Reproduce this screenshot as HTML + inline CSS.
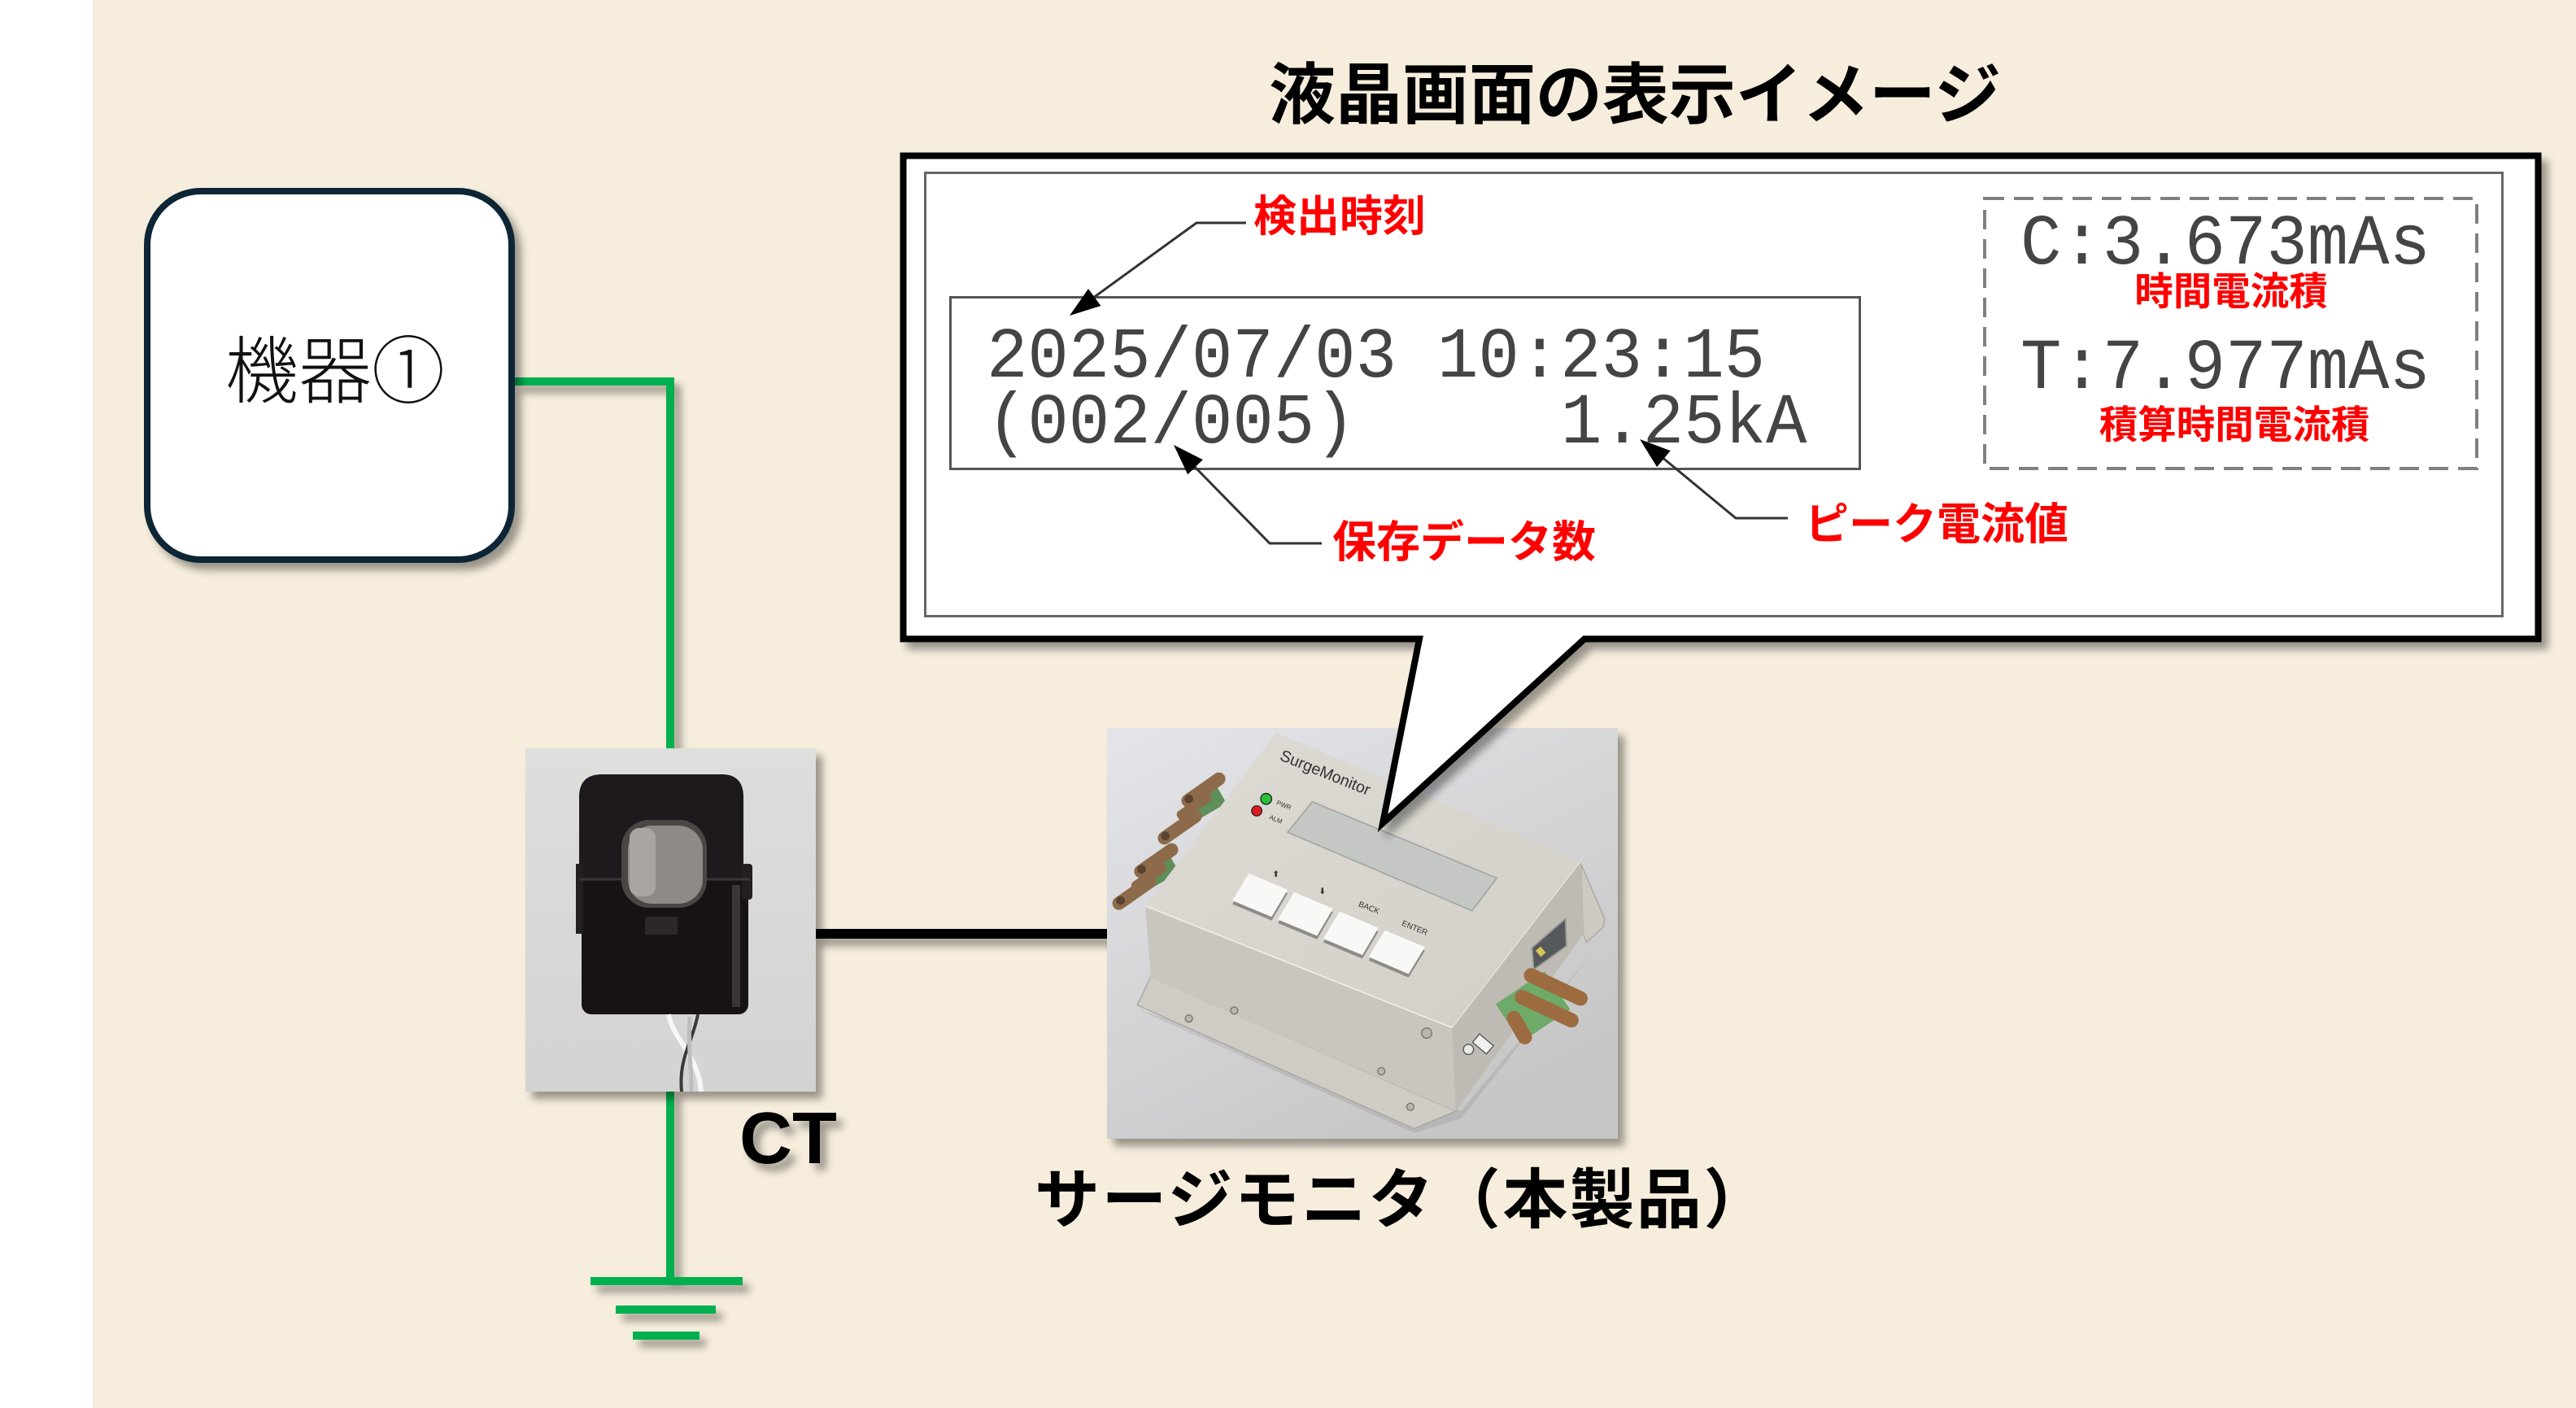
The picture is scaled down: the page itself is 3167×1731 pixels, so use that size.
<!DOCTYPE html>
<html><head><meta charset="utf-8">
<style>
html,body{margin:0;padding:0;background:#fff;}
body{width:3167px;height:1731px;overflow:hidden;position:relative;}
svg{position:absolute;left:0;top:0;display:block;}
</style></head><body>
<svg width="3167" height="1731" viewBox="0 0 3167 1731" xmlns="http://www.w3.org/2000/svg">
<defs>
 <filter id="ds" filterUnits="userSpaceOnUse" x="0" y="0" width="3167" height="1731">
  <feGaussianBlur in="SourceAlpha" stdDeviation="5"/>
  <feOffset dx="8" dy="9"/>
  <feComponentTransfer><feFuncA type="linear" slope="0.38"/></feComponentTransfer>
  <feMerge><feMergeNode/><feMergeNode in="SourceGraphic"/></feMerge>
 </filter>
 <linearGradient id="gct" x1="0" y1="0" x2="0" y2="1">
  <stop offset="0" stop-color="#DEDEDC"/><stop offset="1" stop-color="#D3D3D1"/>
 </linearGradient>
 <linearGradient id="gdev" x1="0" y1="0" x2="0.6" y2="1">
  <stop offset="0" stop-color="#E4E5EA"/><stop offset="0.6" stop-color="#D3D3D5"/><stop offset="1" stop-color="#C6C6C6"/>
 </linearGradient>
 <linearGradient id="gtop" x1="0" y1="0" x2="1" y2="1">
  <stop offset="0" stop-color="#DEDBD4"/><stop offset="1" stop-color="#D2CFC8"/>
 </linearGradient>
</defs>

<!-- background -->
<rect x="0" y="0" width="3167" height="1731" fill="#FFFFFF"/>
<rect x="114" y="0" width="3053" height="1731" fill="#F6EDDC"/>

<!-- green wiring -->
<g filter="url(#ds)" fill="none" stroke="#00B050" stroke-width="10">
 <path d="M633,469 H824 V925"/>
 <path d="M824,1340 V1575"/>
 <line x1="726" y1="1575" x2="913" y2="1575"/>
 <line x1="757" y1="1610" x2="880" y2="1610"/>
 <line x1="778" y1="1642" x2="860" y2="1642"/>
</g>

<!-- black wire CT -> monitor -->
<g filter="url(#ds)"><line x1="1000" y1="1148" x2="1366" y2="1148" stroke="#000" stroke-width="12"/></g>

<!-- machine box -->
<g filter="url(#ds)">
 <rect x="181" y="235" width="448" height="453" rx="66" ry="66" fill="#FFFFFF" stroke="#0C2536" stroke-width="8"/>
</g>
<text x="412" y="488" font-family="'Liberation Sans','Noto Sans CJK JP',sans-serif" font-size="90" font-weight="300" text-anchor="middle" fill="#111">機器①</text>

<!-- CT photo -->
<g filter="url(#ds)"><rect x="646" y="920" width="357" height="422" fill="url(#gct)"/></g>
<g>
 <path d="M712,1090 V980 Q712,952 740,952 H887 Q914,952 914,980 V1090 Z" fill="#1D191C"/>
 <rect x="715" y="1080" width="205" height="167" rx="12" fill="#171315"/>
 <rect x="900" y="1088" width="10" height="150" fill="#3A3538"/>
 <rect x="708" y="1062" width="9" height="86" fill="#231F21"/>
 <rect x="912" y="1062" width="13" height="44" rx="4" fill="#231F21"/>
 <line x1="712" y1="1081" x2="922" y2="1081" stroke="#3a3638" stroke-width="3"/>
 <rect x="764" y="1008" width="105" height="108" rx="34" fill="#4A4643"/>
 <rect x="772" y="1015" width="92" height="96" rx="30" fill="#8E8A86"/>
 <rect x="774" y="1018" width="32" height="84" rx="12" fill="#A9A6A2"/>
 <rect x="793" y="1127" width="40" height="22" fill="#2C282A"/>
 <path d="M822,1247 C826,1275 860,1300 862,1342" stroke="#F6F6F6" stroke-width="6" fill="none"/>
 <path d="M858,1247 C852,1280 834,1300 838,1342" stroke="#3A3A3A" stroke-width="4" fill="none"/>
 <path d="M848,1250 C846,1290 850,1310 850,1342" stroke="#BDBDBD" stroke-width="5" fill="none"/>
</g>
<!-- CT label -->
<g filter="url(#ds)">
 <text x="909" y="1430" font-family="'Liberation Sans',sans-serif" font-size="90" font-weight="bold" fill="#000">CT</text>
</g>

<!-- Monitor photo -->
<g filter="url(#ds)"><rect x="1361" y="895" width="628" height="505" fill="url(#gdev)"/></g>
<g transform="translate(1350,750) scale(0.44643)">
 <path d="M110,1100 L870,1440 L1000,1400 L1380,920 L1000,1380 Z" fill="#000" opacity="0.08"/>
 <g fill="#5E8F58">
  <rect x="250" y="500" width="95" height="60" transform="rotate(-30 297 530)"/>
  <rect x="120" y="690" width="95" height="60" transform="rotate(-30 167 720)"/>
 </g>
 <g fill="#8C6A4A">
  <g transform="translate(290,495) rotate(-35)"><rect x="-70" y="-18" width="140" height="36" rx="18"/></g>
  <g transform="translate(265,540) rotate(-35)"><rect x="-55" y="-14" width="110" height="28" rx="12"/></g>
  <g transform="translate(225,598) rotate(-35)"><rect x="-70" y="-18" width="140" height="36" rx="18"/></g>
  <g transform="translate(160,690) rotate(-35)"><rect x="-70" y="-18" width="140" height="36" rx="18"/></g>
  <g transform="translate(140,735) rotate(-35)"><rect x="-55" y="-14" width="110" height="28" rx="12"/></g>
  <g transform="translate(100,778) rotate(-35)"><rect x="-70" y="-18" width="140" height="36" rx="18"/></g>
 </g>
 <g fill="#5a4330">
  <circle cx="250" cy="520" r="12"/><circle cx="185" cy="622" r="12"/><circle cx="120" cy="714" r="12"/><circle cx="62" cy="800" r="12"/>
 </g>
 <polygon points="145,1010 985,1380 870,1428 108,1088" fill="#CFCCC5" stroke="#A9A6A0" stroke-width="3"/>
 <polygon points="1330,700 1395,850 1392,872 1345,915 1336,892" fill="#CDCAC3" stroke="#A9A6A0" stroke-width="3"/>
 <polygon points="130,815 975,1150 985,1380 145,1012" fill="#C9C6BF"/>
 <polygon points="975,1150 1330,690 1338,890 985,1380" fill="#BEBBB4"/>
 <polygon points="490,338 1330,690 975,1150 130,815" fill="url(#gtop)"/>
 <line x1="130" y1="815" x2="975" y2="1150" stroke="#EEECE8" stroke-width="4"/>
 <line x1="975" y1="1150" x2="1330" y2="690" stroke="#E6E4DF" stroke-width="3"/>
 <polygon points="590,528 1098,738 1030,828 522,612" fill="#C4C7C3" stroke="#A5A8A4" stroke-width="4"/>
 <g fill="#8E8C88">
  <polygon points="415,735 522,780 478,855 370,810"/>
  <polygon points="540,787 647,832 603,907 495,862"/>
  <polygon points="665,840 772,885 728,960 620,915"/>
  <polygon points="790,892 900,938 855,1012 745,965"/>
 </g>
 <g fill="#F8F8F6">
  <polygon points="415,725 522,770 478,845 370,800"/>
  <polygon points="540,777 647,822 603,897 495,852"/>
  <polygon points="665,830 772,875 728,950 620,905"/>
  <polygon points="790,882 900,928 855,1002 745,955"/>
 </g>
 <circle cx="463" cy="520" r="15" fill="#2BC13A" stroke="#222" stroke-width="3"/>
 <circle cx="437" cy="553" r="14" fill="#E0191C" stroke="#222" stroke-width="3"/>
 <g font-family="'Liberation Sans',sans-serif" fill="#333">
  <text x="498" y="412" font-size="44" transform="rotate(22 498 412)">SurgeMonitor</text>
  <text x="490" y="535" font-size="18" transform="rotate(22 490 535)">PWR</text>
  <text x="470" y="575" font-size="18" transform="rotate(22 470 575)">ALM</text>
  <text x="716" y="815" font-size="22" transform="rotate(22 716 815)">BACK</text>
  <text x="835" y="868" font-size="22" transform="rotate(22 835 868)">ENTER</text>
  <text x="480" y="735" font-size="24">⬆</text>
  <text x="608" y="782" font-size="24">⬇</text>
 </g>
 <polygon points="1195,930 1287,850 1290,925 1200,990" fill="#55595B" stroke="#9A9893" stroke-width="4"/>
 <rect x="1210" y="930" width="18" height="22" fill="#D8C65A" transform="rotate(-40 1219 941)"/>
 <circle cx="1020" cy="1210" r="14" fill="#E8E8E6" stroke="#555" stroke-width="3"/>
 <rect x="1045" y="1170" width="30" height="50" fill="#F0F0EE" stroke="#555" stroke-width="3" transform="rotate(-50 1060 1195)"/>
 <polygon points="1095,1085 1230,995 1300,1100 1165,1190" fill="#6EAA68"/>
 <g fill="#9C6C40">
  <g transform="translate(1265,1040) rotate(25)"><rect x="-100" y="-20" width="190" height="40" rx="20"/></g>
  <g transform="translate(1240,1100) rotate(25)"><rect x="-100" y="-20" width="190" height="40" rx="20"/></g>
  <g transform="translate(1160,1150) rotate(60)"><rect x="-50" y="-20" width="100" height="40" rx="20"/></g>
 </g>
 <g fill="#B9B6AF" stroke="#77746E" stroke-width="3">
  <circle cx="250" cy="1125" r="10"/><circle cx="375" cy="1103" r="10"/><circle cx="780" cy="1270" r="10"/><circle cx="860" cy="1368" r="10"/><circle cx="905" cy="1165" r="14"/>
 </g>
</g>

<!-- product label -->
<text x="1272" y="1503" font-family="'Liberation Sans','Noto Sans CJK JP',sans-serif" font-size="80" font-weight="bold" letter-spacing="2.4" fill="#000">サージモニタ（本製品）</text>

<!-- title -->
<text x="2010" y="145" font-family="'Liberation Sans','Noto Sans CJK JP',sans-serif" font-size="82" font-weight="bold" text-anchor="middle" fill="#000">液晶画面の表示イメージ</text>

<!-- callout -->
<g filter="url(#ds)">
 <path d="M1110.5,191.5 H3120.5 V785.5 H1948 L1700,1012 L1745,785.5 H1110.5 Z" fill="#FFFFFF" stroke="#000" stroke-width="8" stroke-linejoin="miter"/>
</g>
<rect x="1137.5" y="212.5" width="1939" height="545" fill="none" stroke="#666" stroke-width="3"/>
<rect x="1168.5" y="365.5" width="1118" height="211" fill="none" stroke="#555" stroke-width="3"/>
<rect x="2440" y="244" width="605" height="332" fill="none" stroke="#808080" stroke-width="4" stroke-dasharray="24 12"/>

<!-- LCD text -->
<g font-family="'Liberation Mono',monospace" font-size="84" fill="#444">
 <text x="1213" y="463" transform="matrix(1 0 0 1.05 0 -23.15)">2025/07/03</text>
 <text x="1767" y="463" transform="matrix(1 0 0 1.05 0 -23.15)">10:23:15</text>
 <text x="1213" y="544" transform="matrix(1 0 0 1.05 0 -27.2)">(002/005)</text>
 <text x="1919" y="544" transform="matrix(1 0 0 1.05 0 -27.2)">1.25kA</text>
 <text x="2484" y="324" transform="matrix(1 0 0 1.05 0 -16.2)">C:3.673mAs</text>
 <text x="2484" y="477" transform="matrix(1 0 0 1.05 0 -23.85)">T:7.977mAs</text>
</g>

<!-- arrows -->
<g fill="none" stroke="#333" stroke-width="3">
 <polyline points="1532,274 1471,274 1340,369"/>
 <polyline points="1625,668 1561,668 1466,571"/>
 <polyline points="2198,637 2134,637 2042,561"/>
</g>
<g fill="#000">
 <polygon points="1315,388 1353.4,376 1338,355"/>
 <polygon points="1443,547 1478.8,565.1 1460.2,583.3"/>
 <polygon points="2016,540 2053.7,554.1 2037.1,574.1"/>
</g>

<!-- red labels -->
<g font-family="'Liberation Sans','Noto Sans CJK JP',sans-serif" font-weight="bold" fill="#FF0000" text-anchor="middle">
 <text x="1647" y="284" font-size="53">検出時刻</text>
 <text x="1800" y="685" font-size="54">保存データ数</text>
 <text x="2381" y="663" font-size="54">ピーク電流値</text>
 <text x="2743" y="375" font-size="47.5">時間電流積</text>
 <text x="2747" y="539" font-size="47.5">積算時間電流積</text>
</g>
</svg>
</body></html>
